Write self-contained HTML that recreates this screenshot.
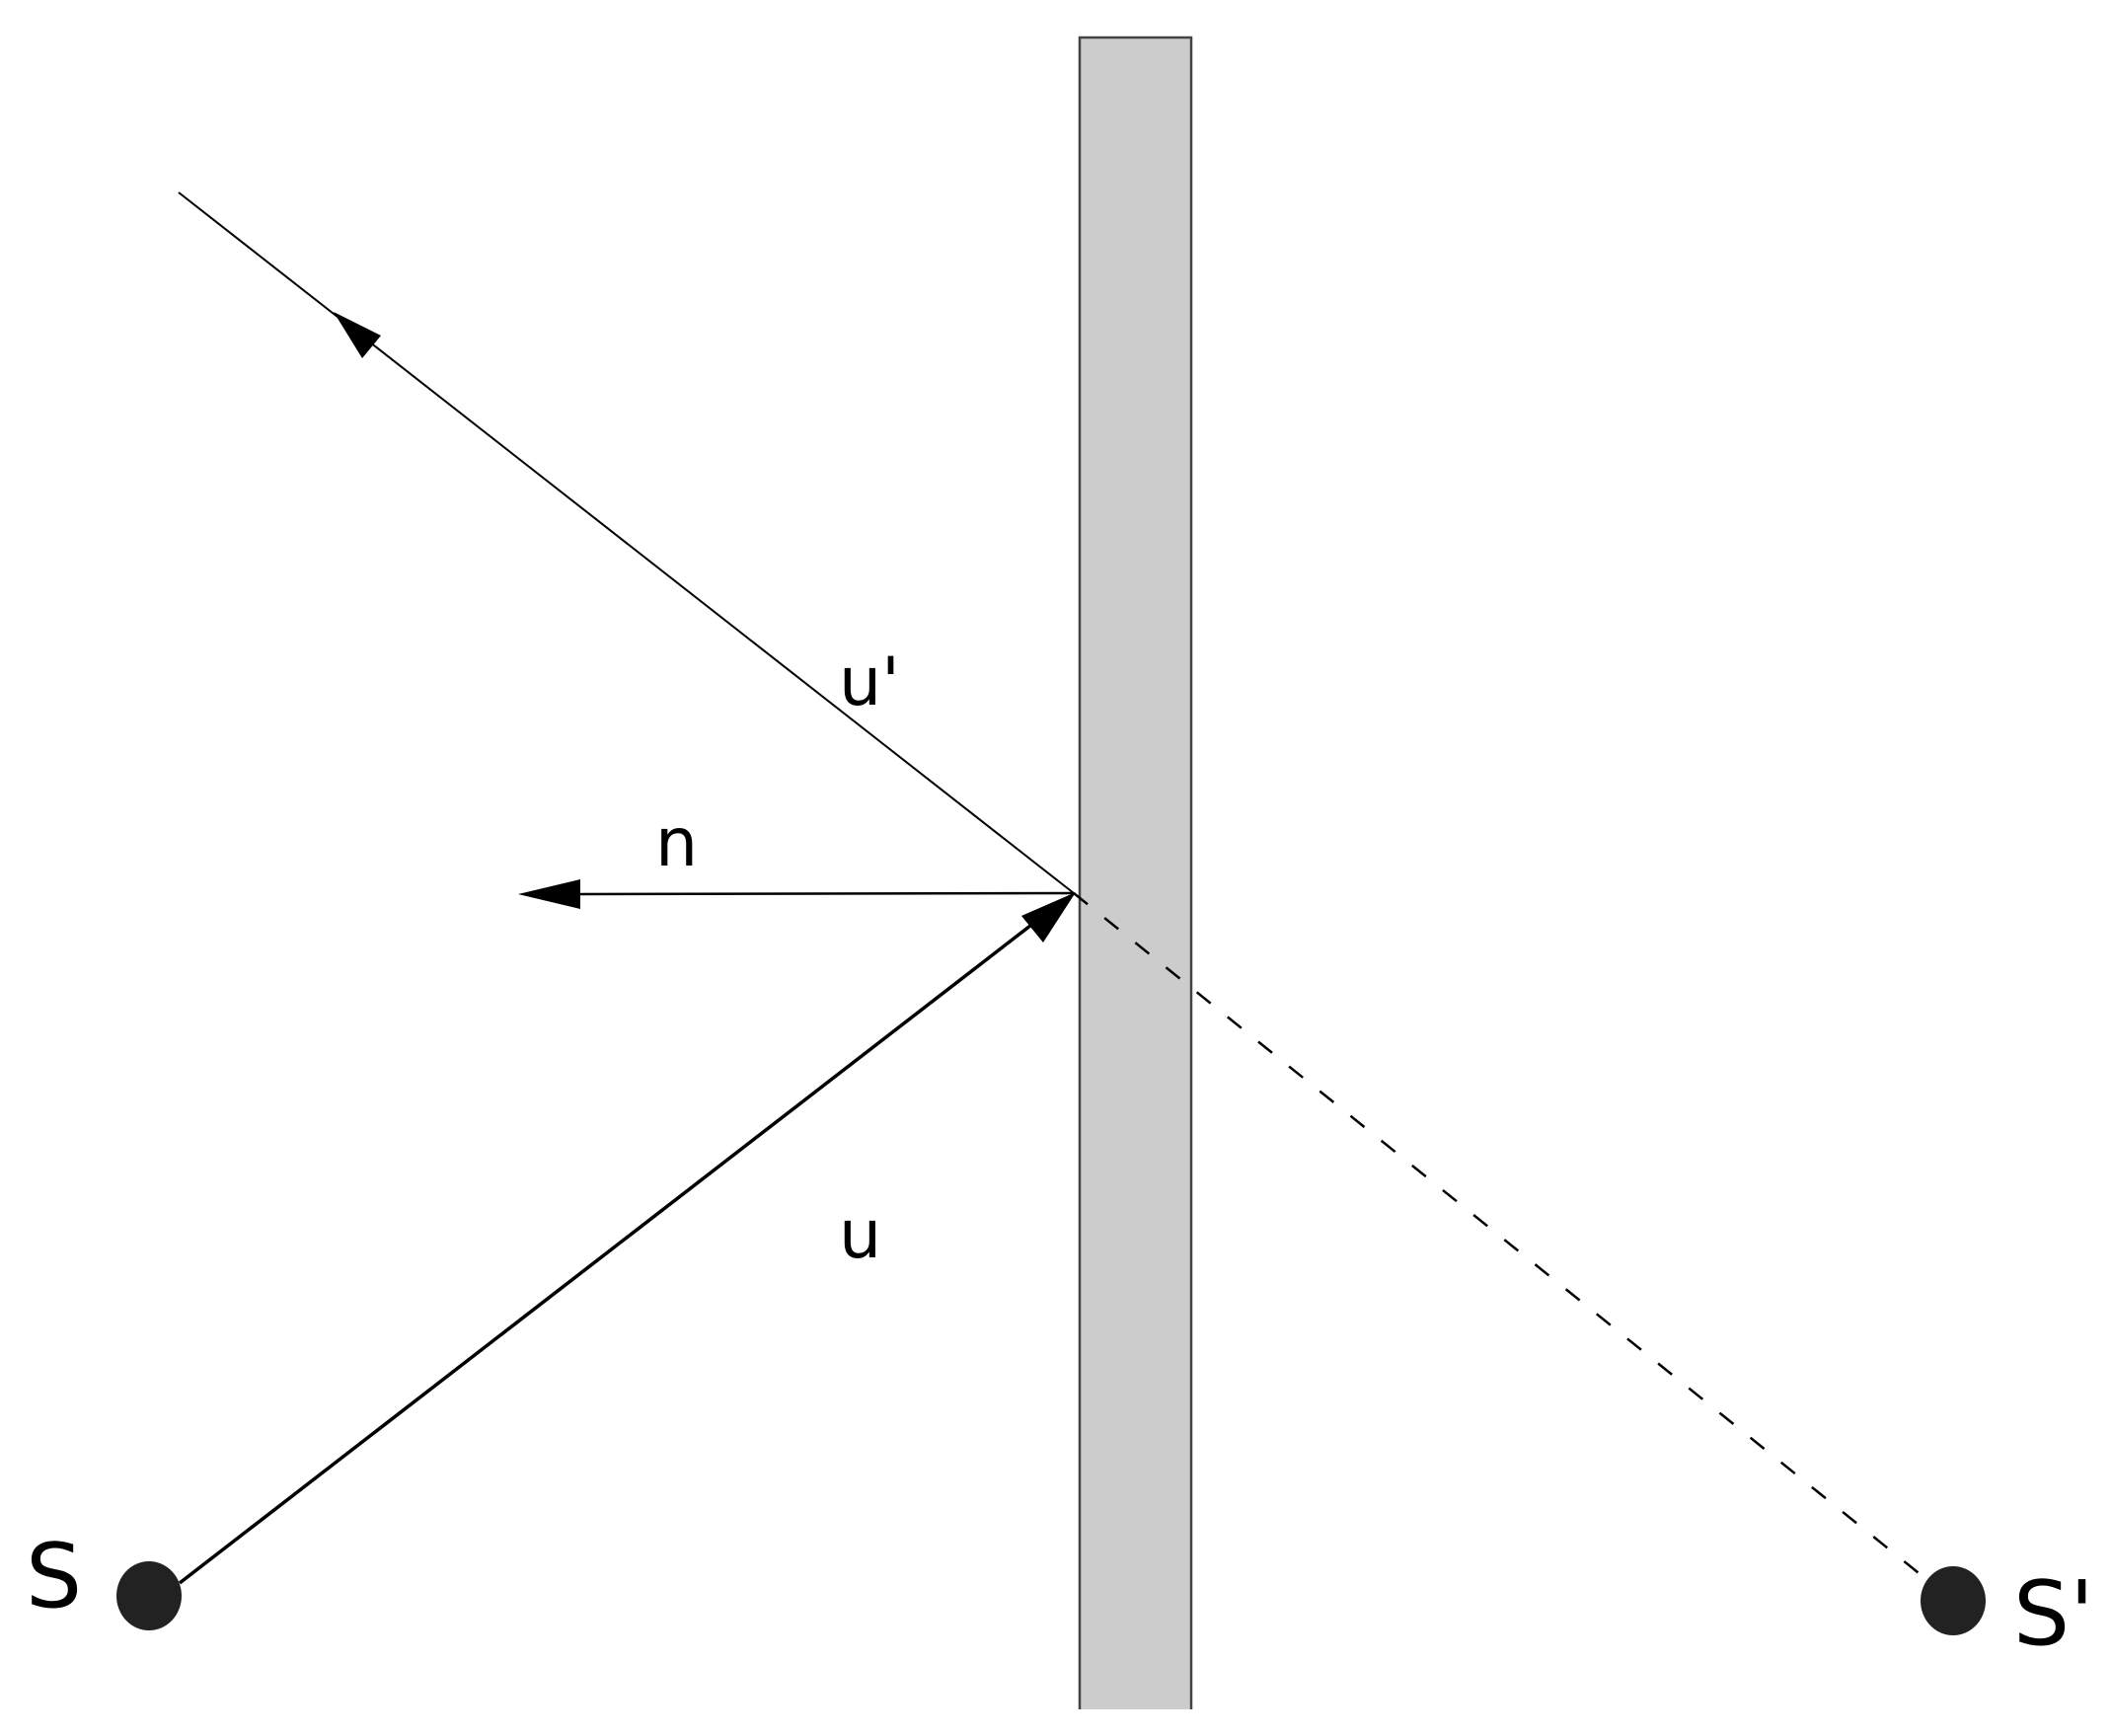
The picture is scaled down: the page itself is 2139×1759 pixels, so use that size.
<!DOCTYPE html>
<html><head><style>html,body{margin:0;padding:0;background:#fff}</style></head>
<body>
<svg width="2139" height="1759" viewBox="0 0 2139 1759" xmlns="http://www.w3.org/2000/svg" style="display:block">
<rect x="1094" y="38" width="113" height="1694" fill="#cccccc"/>
<path d="M1094,1732 L1094,38 L1207,38 L1207,1732" fill="none" stroke="#444" stroke-width="2.5"/>
<line x1="181" y1="195" x2="1088" y2="905" stroke="#000" stroke-width="2"/>
<polygon points="338,316 367,363 386,340" fill="#000"/>
<line x1="1088" y1="905" x2="585" y2="906" stroke="#000" stroke-width="2.5"/>
<polygon points="525,906 588,891 588,921" fill="#000"/>
<line x1="182" y1="1604" x2="1075" y2="914" stroke="#000" stroke-width="3.5"/>
<polygon points="1090,904 1035,928 1057,955" fill="#000"/>
<line x1="1088" y1="905" x2="1979" y2="1622" stroke="#000" stroke-width="2.5" stroke-dasharray="18,22"/>
<ellipse cx="151" cy="1617" rx="33" ry="35" fill="#222"/>
<ellipse cx="1979" cy="1622" rx="33" ry="35" fill="#222"/>
<g font-family="DejaVu Sans, sans-serif" fill="#000">
<text x="850" y="714" font-size="68">u'</text>
<text x="664" y="877" font-size="68">n</text>
<text x="850" y="1274" font-size="68">u</text>
<text x="26" y="1628" font-size="90">S</text>
<text x="2040" y="1666" font-size="90">S'</text>
</g>
</svg>
</body></html>
